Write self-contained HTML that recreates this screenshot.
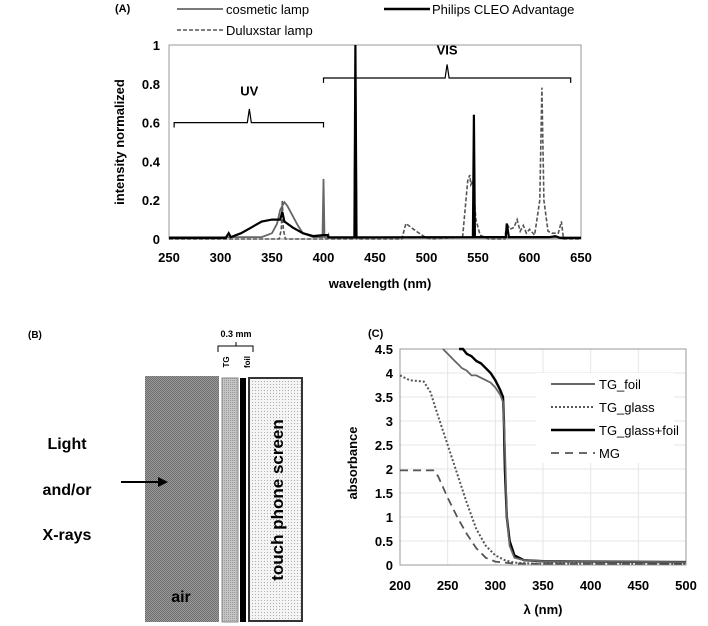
<!DOCTYPE html>
<html><head><meta charset="utf-8"><style>
body{margin:0;background:#fff}
svg{display:block;font-family:"Liberation Sans",sans-serif}
</style></head><body>
<svg id="s" width="708" height="626" viewBox="0 0 708 626">
<defs>
<pattern id="pAir" width="2" height="2" patternUnits="userSpaceOnUse"><rect width="2" height="2" fill="#9a9a9a"/><rect width="1" height="1" fill="#6e6e6e"/><rect x="1" y="1" width="1" height="1" fill="#6e6e6e"/></pattern>
<pattern id="pTG" width="2" height="2" patternUnits="userSpaceOnUse"><rect width="2" height="2" fill="#c4c4c4"/><rect width="1" height="1" fill="#9a9a9a"/></pattern>
<pattern id="pScr" width="3" height="3" patternUnits="userSpaceOnUse"><rect width="3" height="3" fill="#f4f4f4"/><rect width="1" height="1" fill="#b0b0b0"/></pattern>
</defs>
<g id="A"></g>
<g id="B">
<text x="28" y="338" font-size="10" font-weight="bold">(B)</text>
<rect x="145" y="376" width="74" height="246" fill="url(#pAir)"/>
<text x="181" y="602" font-size="16" font-weight="bold" text-anchor="middle">air</text>
<rect x="222" y="378" width="16" height="244" fill="url(#pTG)" stroke="#888" stroke-width="1"/>
<rect x="240" y="378" width="6" height="244" fill="#000"/>
<rect x="249" y="378" width="53" height="243" fill="url(#pScr)" stroke="#333" stroke-width="2"/>
<text transform="translate(283,500) rotate(-90)" font-size="17" font-weight="bold" text-anchor="middle">touch phone screen</text>
<text transform="translate(229,362) rotate(-90)" font-size="8" font-weight="bold" text-anchor="middle">TG</text>
<text transform="translate(250,362) rotate(-90)" font-size="8" font-weight="bold" text-anchor="middle">foil</text>
<text x="236" y="337" font-size="9" font-weight="bold" text-anchor="middle">0.3 mm</text>
<path d="M218,352 V346 H253 V352 M236,346 V342" fill="none" stroke="#000" stroke-width="1"/>
<text x="67" y="449" font-size="16" font-weight="bold" text-anchor="middle">Light</text>
<text x="67" y="495" font-size="16" font-weight="bold" text-anchor="middle">and/or</text>
<text x="67" y="540" font-size="16" font-weight="bold" text-anchor="middle">X-rays</text>
<line x1="121" y1="482" x2="160" y2="482" stroke="#000" stroke-width="2"/>
<path d="M168,482 L158,477 L158,487 Z" fill="#000"/>
</g>
<g id="C"></g>
</svg>
<script>
// ---------- Panel A data ----------
const aXTicks=[250,300,350,400,450,500,550,600,650];
const aYTicks=[0,0.2,0.4,0.6,0.8,1];
const aYTickLabels=["0","0.2","0.4","0.6","0.8","1"];
const cosmeticWl=[250,340,350,355,358,362,365,370,375,380,390,399,400,401,402,430,431,432,650];
const cosmeticVal=[0.01,0.01,0.03,0.08,0.15,0.19,0.17,0.12,0.07,0.03,0.01,0.01,0.31,0.01,0.008,0.008,1,0.008,0.008];
const philipsWl=[250,305,308,310,320,330,340,350,355,358,360,362,370,380,390,400,404,405,430,431,432,545,546,547,577,578,580,620,625,630,650];
const philipsVal=[0.005,0.005,0.03,0.01,0.03,0.06,0.09,0.1,0.1,0.1,0.14,0.09,0.06,0.03,0.015,0.02,0.02,0.008,0.008,1,0.008,0.01,0.64,0.01,0.01,0.08,0.01,0.01,0.015,0.005,0.005];
const duluxWl=[250,357,359,360,361,363,404,405,406,430,431,432,476,480,490,500,505,535,540,542,543,545,548,552,560,576,578,581,585,588,591,594,597,600,605,610,612,614,618,622,628,631,633,650];
const duluxVal=[0,0,0.05,0.2,0.05,0,0,0.02,0,0,1,0,0,0.08,0.04,0.005,0,0.01,0.3,0.33,0.28,0.3,0.1,0.02,0,0,0.08,0.05,0.06,0.1,0.04,0.07,0.03,0.05,0.02,0.2,0.78,0.2,0.04,0.03,0.03,0.09,0,0];
// ---------- Panel C data ----------
const cXTicks=[200,250,300,350,400,450,500];
const cYTicks=[0,0.5,1,1.5,2,2.5,3,3.5,4,4.5];
const cYTickLabels=["0","0.5","1","1.5","2","2.5","3","3.5","4","4.5"];
const tgFoilWl=[245,250,255,260,265,270,275,280,285,290,295,300,305,308,310,312,315,320,330,350,400,500];
const tgFoilVal=[4.5,4.4,4.3,4.2,4.1,4.05,3.95,3.95,3.9,3.85,3.8,3.7,3.55,3.4,2.5,1.0,0.4,0.15,0.1,0.08,0.07,0.06];
const tgGlassWl=[200,210,225,232,240,250,260,270,280,290,300,310,320,340,500];
const tgGlassVal=[3.95,3.85,3.82,3.6,3.1,2.5,1.9,1.3,0.75,0.4,0.2,0.1,0.05,0.03,0.03];
const tgGlassFoilWl=[262,266,270,275,280,285,290,295,300,305,308,309,310,312,315,320,330,350,400,500];
const tgGlassFoilVal=[4.5,4.5,4.4,4.35,4.25,4.2,4.1,4.0,3.85,3.65,3.5,3.0,2.0,1.0,0.5,0.2,0.1,0.08,0.07,0.06];
const mgWl=[200,235,240,250,260,270,280,290,300,320,500];
const mgVal=[1.97,1.97,1.85,1.4,1.0,0.65,0.35,0.15,0.07,0.03,0.02];

const NS="http://www.w3.org/2000/svg";
function mk(tag,attrs,parent,txt){const e=document.createElementNS(NS,tag);for(const k in attrs)e.setAttribute(k,attrs[k]);if(txt!==undefined)e.textContent=txt;parent.appendChild(e);return e;}
function pathOf(xs,ys,sx,sy){return xs.map((x,i)=>(i?"L":"M")+sx(x).toFixed(1)+","+sy(ys[i]).toFixed(1)).join("");}

// ---- Panel A ----
const A=document.getElementById('A');
const ax=v=>169+(v-250)/400*412, ay=v=>239-v*194;
let e;
e=mk('rect',{x:169,y:45,width:412,height:194,fill:'none',stroke:'#999'},A);


aYTicks.forEach((t,i)=>{e=mk('text',{x:160,y:ay(t)+5,'font-size':13,'font-weight':'bold','text-anchor':'end'},A,aYTickLabels[i]);

});
aXTicks.forEach(t=>{e=mk('text',{x:ax(t),y:262,'font-size':13,'font-weight':'bold','text-anchor':'middle'},A,String(t));

});
e=mk('text',{x:380,y:288,'font-size':13,'font-weight':'bold','text-anchor':'middle'},A,'wavelength (nm)');


e=mk('text',{transform:'translate(124,142) rotate(-90)','font-size':13,'font-weight':'bold','text-anchor':'middle'},A,'intensity normalized');


e=mk('path',{d:pathOf(duluxWl,duluxVal,ax,ay),fill:'none',stroke:'#555','stroke-width':1.6,'stroke-dasharray':'4,2'},A);


e=mk('path',{d:pathOf(cosmeticWl,cosmeticVal,ax,ay),fill:'none',stroke:'#666','stroke-width':1.8},A);


e=mk('path',{d:pathOf(philipsWl,philipsVal,ax,ay),fill:'none',stroke:'#000','stroke-width':2.2},A);


// braces
e=mk('path',{d:`M${ax(255)},${ay(0.575)} V${ay(0.6)} H${ax(328)-2} L${ax(328)},${ay(0.67)} L${ax(328)+2},${ay(0.6)} H${ax(400)} V${ay(0.575)}`,fill:'none',stroke:'#000','stroke-width':1.2},A);


e=mk('path',{d:`M${ax(400)},${ay(0.805)} V${ay(0.83)} H${ax(520)-2} L${ax(520)},${ay(0.9)} L${ax(520)+2},${ay(0.83)} H${ax(640)} V${ay(0.805)}`,fill:'none',stroke:'#000','stroke-width':1.2},A);


e=mk('text',{x:ax(328),y:ay(0.74),'font-size':13,'font-weight':'bold','text-anchor':'middle'},A,'UV');


e=mk('text',{x:ax(520),y:ay(0.95),'font-size':13,'font-weight':'bold','text-anchor':'middle'},A,'VIS');


e=mk('text',{x:115,y:12,'font-size':11,'font-weight':'bold'},A,'(A)');


[[177,9,226,'cosmetic lamp','#666',null,1.8],[384,9,432,'Philips CLEO Advantage','#000',null,2.5],[177,30,226,'Duluxstar lamp','#555','4,2',1.6]].forEach(l=>{
 const g=mk('g',{},A);
 
 
 const at={x1:l[0],y1:l[1],x2:l[0]+46,y2:l[1],stroke:l[4],'stroke-width':l[6]};if(l[5])at['stroke-dasharray']=l[5];
 mk('line',at,g);mk('text',{x:l[2],y:l[1]+5,'font-size':13},g,l[3]);});

// ---- Panel C ----
const C=document.getElementById('C');
const cx=v=>400+(v-200)/300*286, cy=v=>565-v/4.5*216;
cXTicks.forEach(t=>{e=mk('line',{x1:cx(t),y1:cy(0),x2:cx(t),y2:cy(4.5),stroke:'#e6e6e6'},C);


e=mk('text',{x:cx(t),y:590,'font-size':13,'font-weight':'bold','text-anchor':'middle'},C,String(t));

});
cYTicks.forEach((t,i)=>{e=mk('line',{x1:cx(200),y1:cy(t),x2:cx(500),y2:cy(t),stroke:'#e6e6e6'},C);


e=mk('text',{x:393,y:cy(t)+5,'font-size':13,'font-weight':'bold','text-anchor':'end'},C,cYTickLabels[i]);

});
e=mk('rect',{x:cx(200),y:cy(4.5),width:286,height:216,fill:'none',stroke:'#999'},C);


e=mk('rect',{x:536,y:373,width:138,height:90,fill:'#fff'},C);


e=mk('path',{d:pathOf(mgWl,mgVal,cx,cy),fill:'none',stroke:'#555','stroke-width':1.8,'stroke-dasharray':'8,5'},C);


e=mk('path',{d:pathOf(tgGlassWl,tgGlassVal,cx,cy),fill:'none',stroke:'#555','stroke-width':2,'stroke-dasharray':'2,2'},C);


e=mk('path',{d:pathOf(tgGlassFoilWl,tgGlassFoilVal,cx,cy),fill:'none',stroke:'#000','stroke-width':2.4},C);


e=mk('path',{d:pathOf(tgFoilWl,tgFoilVal,cx,cy),fill:'none',stroke:'#666','stroke-width':1.8},C);


e=mk('text',{x:368,y:337,'font-size':11,'font-weight':'bold'},C,'(C)');


e=mk('text',{x:cx(350),y:614,'font-size':13,'font-weight':'bold','text-anchor':'middle'},C,'λ (nm)');


e=mk('text',{transform:'translate(357,463) rotate(-90)','font-size':13,'font-weight':'bold','text-anchor':'middle'},C,'absorbance');


[['TG_foil','#666',null,2],['TG_glass','#555','2,2',2],['TG_glass+foil','#000',null,2.6],['MG','#555','8,6',1.8]].forEach((l,i)=>{
 const y=384+i*23;
 const g=mk('g',{},C);
 
 
 const at={x1:551,y1:y,x2:595,y2:y,stroke:l[1],'stroke-width':l[3]};if(l[2])at['stroke-dasharray']=l[2];
 mk('line',at,g);mk('text',{x:599,y:y+5,'font-size':13},g,l[0]);});
</script>
</body></html>
